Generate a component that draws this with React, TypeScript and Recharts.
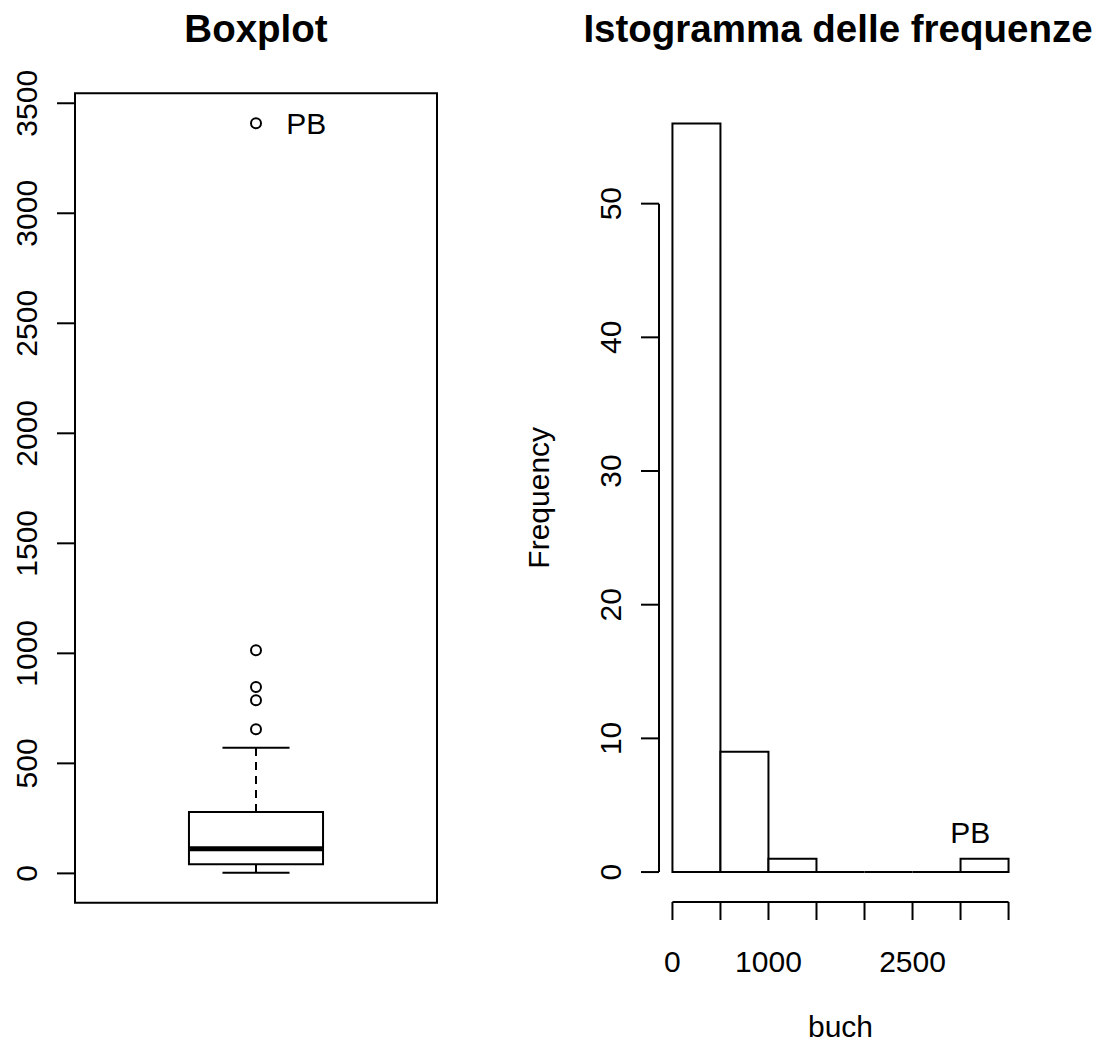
import React from "react";
import {
  ComposedChart,
  XAxis,
  YAxis,
  Bar,
  Scatter,
  ReferenceArea,
  ReferenceLine,
  ReferenceDot,
} from "recharts";

const FONT = '"Liberation Sans", Arial, Helvetica, sans-serif';
const INK = "#000";

// boxplot of buch
const boxWhiskers = [3, 571];
const boxHinges = [41, 279];
const boxMedian = 112;
const outlierValues = [655, 787, 847, 1014, 3409];
const boxTicks = [0, 500, 1000, 1500, 2000, 2500, 3000, 3500];
const boxNote = { x: 1.15, y: 3409, text: "PB" };

// histogram of buch
const binBreaks = [0, 500, 1000, 1500, 2000, 2500, 3000, 3500];
const binCounts = [56, 9, 1, 0, 0, 0, 1];
const freqTicks = [0, 10, 20, 30, 40, 50];
const breakLabels = [0, 1000, 2500];
const histNote = { x: 3100, y: 3, text: "PB" };

// R-style axis range: data range stretched by 4% on each side
const padRange = (lo: number, hi: number) => {
  const d = (hi - lo) * 0.04;
  return [lo - d, hi + d];
};

const tickStyle = { stroke: INK, strokeWidth: 2 };

const RotatedTick = (props: any) => {
  const { x, y, payload } = props;
  const cx = x - 31;
  return (
    <text
      x={cx}
      y={y}
      transform={`rotate(-90 ${cx} ${y})`}
      textAnchor="middle"
      dy="0.36em"
      fontSize={30}
      fontFamily={FONT}
      fill={INK}
    >
      {payload.value}
    </text>
  );
};

const BreakTick = (props: any) => {
  const { x, y, payload } = props;
  if (!breakLabels.includes(payload.value)) return <g />;
  return (
    <text x={x} y={y + 52} textAnchor="middle" fontSize={30} fontFamily={FONT} fill={INK}>
      {payload.value}
    </text>
  );
};

const NoteText = (props: any) => {
  const { viewBox, text } = props;
  const cx = viewBox.x + (viewBox.width || 0) / 2;
  const cy = viewBox.y + (viewBox.height || 0) / 2;
  return (
    <text x={cx} y={cy} dy="0.36em" textAnchor="middle" fontSize={30} fontFamily={FONT} fill={INK}>
      {text}
    </text>
  );
};

const FreqTitle = (props: any) => {
  const { viewBox } = props;
  const x = viewBox.x + viewBox.width - 110;
  const y = viewBox.y + viewBox.height / 2;
  return (
    <text x={x} y={y} transform={`rotate(-90 ${x} ${y})`} textAnchor="middle" fontSize={30} fontFamily={FONT} fill={INK}>
      Frequency
    </text>
  );
};

const BuchTitle = (props: any) => {
  const { viewBox } = props;
  return (
    <text x={viewBox.x + viewBox.width / 2} y={viewBox.y + 135} textAnchor="middle" fontSize={30} fontFamily={FONT} fill={INK}>
      buch
    </text>
  );
};

const OutlierDot = (p: any) => (
  <circle cx={p.cx} cy={p.cy} r={5} fill="none" stroke={INK} strokeWidth={2} />
);

const BinRect = (p: any) => {
  const { x, y, width, height } = p;
  return (
    <path
      d={`M${x},${y + height}V${y}H${x + width}V${y + height}Z`}
      fill="#fff"
      stroke={INK}
      strokeWidth={2}
    />
  );
};

function BoxplotPanel() {
  const vals = [boxWhiskers[0], boxWhiskers[1], ...outlierValues];
  const yDom = padRange(Math.min(...vals), Math.max(...vals));
  const xDom = padRange(0.5, 1.5);
  const outlierRows = outlierValues.map((v) => ({ x: 1, y: v }));

  return (
    <ComposedChart width={480} height={1042} margin={{ top: 93.3, right: 43, bottom: 139.3, left: 0 }}>
      <XAxis type="number" dataKey="x" domain={xDom} allowDataOverflow hide />
      <YAxis
        type="number"
        dataKey="y"
        domain={yDom}
        allowDataOverflow
        ticks={boxTicks}
        interval={0}
        width={75}
        axisLine={false}
        tickLine={tickStyle}
        tickSize={18}
        tickMargin={0}
        tick={(p: any) => <RotatedTick {...p} />}
      />
      {/* plot frame */}
      <ReferenceArea
        x1={xDom[0]}
        x2={xDom[1]}
        y1={yDom[0]}
        y2={yDom[1]}
        fill="none"
        stroke={INK}
        strokeWidth={2}
        ifOverflow="visible"
      />
      <ReferenceArea
        x1={0.8}
        x2={1.2}
        y1={boxHinges[0]}
        y2={boxHinges[1]}
        fill="#fff"
        fillOpacity={1}
        stroke={INK}
        strokeWidth={2}
        ifOverflow="visible"
      />
      <ReferenceLine
        segment={[{ x: 1, y: boxHinges[1] }, { x: 1, y: boxWhiskers[1] }]}
        stroke={INK}
        strokeWidth={2}
        strokeDasharray="8 6"
        ifOverflow="visible"
      />
      <ReferenceLine
        segment={[{ x: 1, y: boxHinges[0] }, { x: 1, y: boxWhiskers[0] }]}
        stroke={INK}
        strokeWidth={2}
        strokeDasharray="8 6"
        ifOverflow="visible"
      />
      {boxWhiskers.map((w) => (
        <ReferenceLine
          key={w}
          segment={[{ x: 0.9, y: w }, { x: 1.1, y: w }]}
          stroke={INK}
          strokeWidth={2}
          ifOverflow="visible"
        />
      ))}
      <ReferenceLine
        segment={[{ x: 0.8, y: boxMedian }, { x: 1.2, y: boxMedian }]}
        stroke={INK}
        strokeWidth={5}
        ifOverflow="visible"
      />
      <Scatter data={outlierRows} dataKey="y" shape={OutlierDot} isAnimationActive={false} />
      <ReferenceDot
        x={boxNote.x}
        y={boxNote.y}
        r={0}
        stroke="none"
        fill="none"
        ifOverflow="visible"
        label={<NoteText text={boxNote.text} />}
      />
    </ComposedChart>
  );
}

function HistogramPanel() {
  const rows = binCounts.map((c, i) => ({
    bin: `${binBreaks[i]}-${binBreaks[i + 1]}`,
    mid: (binBreaks[i] + binBreaks[i + 1]) / 2,
    count: c,
  }));
  const lo = binBreaks[0];
  const hi = binBreaks[binBreaks.length - 1];
  const xDom = padRange(lo, hi);
  const yDom = padRange(0, Math.max(...binCounts));
  const plotW = 363;
  const binPad = (plotW * (lo - xDom[0])) / (xDom[1] - xDom[0]);

  return (
    <ComposedChart
      width={628}
      height={1042}
      data={rows}
      barCategoryGap={0}
      margin={{ top: 93.5, right: 628 - 179 - plotW, bottom: 0, left: 0 }}
    >
      <XAxis
        type="number"
        dataKey="mid"
        domain={xDom}
        allowDataOverflow
        ticks={binBreaks}
        interval={0}
        height={140}
        axisLine={false}
        tickLine={tickStyle}
        tickSize={18}
        tickMargin={0}
        tick={(p: any) => <BreakTick {...p} />}
        label={<BuchTitle />}
      />
      <XAxis
        xAxisId="bins"
        type="category"
        dataKey="bin"
        hide
        padding={{ left: binPad, right: binPad }}
      />
      <YAxis
        type="number"
        domain={yDom}
        allowDataOverflow
        ticks={freqTicks}
        interval={0}
        width={179}
        axisLine={false}
        tickLine={tickStyle}
        tickSize={18}
        tickMargin={0}
        tick={(p: any) => <RotatedTick {...p} />}
        label={<FreqTitle />}
      />
      <Bar xAxisId="bins" dataKey="count" shape={BinRect} isAnimationActive={false} />
      {/* axis lines span only the labelled range */}
      <ReferenceLine
        segment={[{ x: xDom[0], y: freqTicks[0] }, { x: xDom[0], y: freqTicks[freqTicks.length - 1] }]}
        stroke={INK}
        strokeWidth={2}
        ifOverflow="visible"
      />
      <ReferenceLine
        segment={[{ x: lo, y: yDom[0] }, { x: hi, y: yDom[0] }]}
        stroke={INK}
        strokeWidth={2}
        ifOverflow="visible"
      />
      <ReferenceDot
        x={histNote.x}
        y={histNote.y}
        r={0}
        stroke="none"
        fill="none"
        ifOverflow="visible"
        label={<NoteText text={histNote.text} />}
      />
    </ComposedChart>
  );
}

export default function App() {
  return (
    <div
      style={{
        position: "absolute",
        left: 0,
        top: 0,
        width: 1108,
        height: 1042,
        background: "#fff",
        fontFamily: FONT,
      }}
    >
      <div style={{ position: "absolute", left: 0, top: 0 }}>
        <BoxplotPanel />
      </div>
      <div style={{ position: "absolute", left: 480, top: 0 }}>
        <HistogramPanel />
      </div>
      <svg
        width={1108}
        height={1042}
        style={{ position: "absolute", left: 0, top: 0, pointerEvents: "none" }}
      >
        <text x={256} y={42} textAnchor="middle" fontSize={38.5} fontWeight="bold" fontFamily={FONT} fill={INK}>
          Boxplot
        </text>
        <text x={838} y={42} textAnchor="middle" fontSize={38.5} fontWeight="bold" fontFamily={FONT} fill={INK}>
          Istogramma delle frequenze
        </text>
      </svg>
    </div>
  );
}
